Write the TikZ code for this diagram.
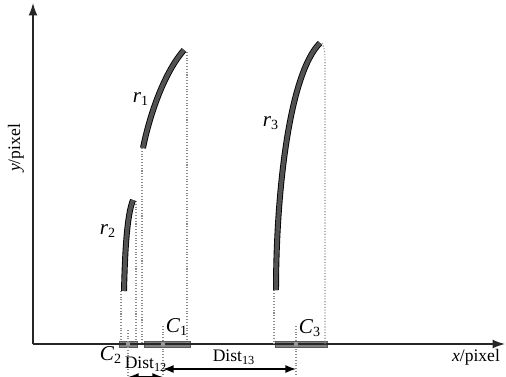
\documentclass[tikz,border=0pt]{standalone}
\usepackage{fontspec}
\setmainfont{Liberation Serif}
\usetikzlibrary{arrows.meta,positioning,calc}

\begin{document}
\begin{tikzpicture}[x=0.02cm, y=-0.02cm,
    axis/.style={draw=black!85, line width=0.8pt, -{Latex[length=7pt,width=5pt]}},
    ridge/.style={draw=black, line width=0.5pt, double=black!68, double distance=2.4pt},
    proj/.style={draw=black!45, densely dotted, line width=0.6pt},
    band/.style={draw=black!65, fill=black!50, line width=0.4pt},
    dist/.style={draw=black, line width=0.7pt, {Latex[length=6pt,width=4.5pt]}-{Latex[length=6pt,width=4.5pt]}},
    lbl/.style={inner sep=1pt, font=\large}
  ]
    \useasboundingbox (0,0) rectangle (506,376);

    % projections of the ridges onto the x axis
    \draw[band] (119,341) rectangle (137,347);
    \draw[band] (144,341) rectangle (190,347);
    \draw[band] (275,341) rectangle (327,347);

    % axes
    \coordinate (O) at (33,344);
    \coordinate (xend) at (505,344);
    \coordinate (yend) at (33,3);
    \draw[axis] (O) -- (xend);
    \draw[axis] (O) -- (yend);
    \node[lbl, font=\normalsize, rotate=90] (ylab) at (16,148) {\textit{y}/pixel};
    \node[lbl, font=\normalsize] (xlab) at (476,357) {\textit{x}/pixel};

    % ridge r2
    \draw[proj] (121,291) -- (121,344);
    \draw[proj] (136,201) -- (136,344);
    \draw[ridge] (124,291) .. controls (125,250) and (127,215) .. (133,200);
    \node[lbl] (r2) at (108,231) {\textit{r}\textsubscript{2}};

    % ridge r1
    \draw[proj] (142,148) -- (142,344);
    \draw[proj] (187,52) -- (187,344);
    \draw[ridge] (143,148) .. controls (149,118) and (163,74) .. (184,50);
    \node[lbl] (r1) at (141,99) {\textit{r}\textsubscript{1}};

    % ridge r3
    \draw[proj] (274,290) -- (274,344);
    \draw[proj] (322,43) .. controls (325,50) .. (325,70) -- (325,344);
    \draw[ridge] (276,290) .. controls (276,200) and (288,75) .. (320,43);
    \node[lbl] (r3) at (271,123) {\textit{r}\textsubscript{3}};

    % centres
    \coordinate (c2) at (128,344);
    \coordinate (c1) at (163,344);
    \coordinate (c3) at (296,344);
    \foreach \c/\top in {c2/330, c1/326, c3/326} {
      \draw[proj] (\c |- 0,\top) -- (\c |- 0,376);
      \fill[black!40] (\c) circle (2.2);
    }
    \node[lbl] (C1) at (177,327) {\textit{C}\textsubscript{1}};
    \node[lbl] (C2) at (111,355) {\textit{C}\textsubscript{2}};
    \node[lbl] (C3) at (310,328) {\textit{C}\textsubscript{3}};

    % distances
    \coordinate (d12a) at (128,377);
    \coordinate (d12b) at (163,377);
    \coordinate (d13a) at (163,369);
    \coordinate (d13b) at (296,369);
    \draw[dist] (d12a) -- (d12b);
    \draw[dist] (d13a) -- (d13b);
    \node[lbl, font=\normalsize] (dist12) at (146,364) {Dist\textsubscript{12}};
    \node[lbl, font=\normalsize] (dist13) at (234,357) {Dist\textsubscript{13}};

  \end{tikzpicture}
\end{document}
